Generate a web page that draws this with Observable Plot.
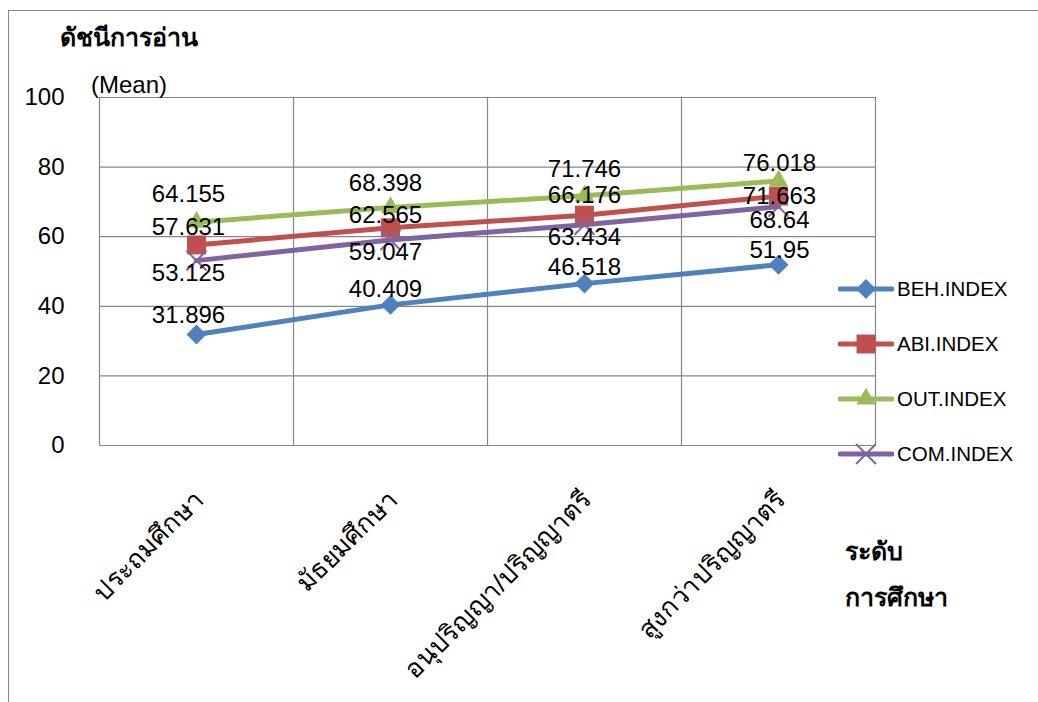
<!DOCTYPE html>
<html>
<head>
<meta charset="utf-8">
<script src="https://cdn.jsdelivr.net/npm/d3@7"></script>
<script src="https://cdn.jsdelivr.net/npm/@observablehq/plot@0.6"></script>
<style>
  body { margin: 0; background: #fff; }
  #wrap { position: relative; width: 1038px; height: 702px; overflow: hidden; background: #fff;
          font-family: "Liberation Sans", Arial, sans-serif; color: #000; }
  #border { position: absolute; left: 8px; top: 10px; width: 1040px; height: 700px;
            border-left: 1.5px solid #8a8a8a; border-top: 1.5px solid #8a8a8a; }
  #chart { position: absolute; left: 0; top: 0; }
  .ann { position: absolute; white-space: nowrap; line-height: 1; }
  #legend { position: absolute; left: 838px; top: 275px; }
  .lrow { position: absolute; left: 0; display: flex; align-items: center; height: 28px; }
  .lrow span { font-size: 20.5px; margin-left: 3px; }
</style>
</head>
<body>
<div id="wrap">
  <div id="border"></div>
  <div id="chart"></div>
  <div class="ann" style="left:60px; top:25px; font-size:25px; font-weight:bold;">ดัชนีการอ่าน</div>
  <div class="ann" style="left:91px; top:73px; font-size:24px;">(Mean)</div>
  <div class="ann" style="left:845px; top:539px; font-size:25px; font-weight:bold;">ระดับ</div>
  <div class="ann" style="left:845px; top:585px; font-size:25px; font-weight:bold;">การศึกษา</div>
  <div id="legend"></div>
</div>
<script>
const categories = ["ประถมศึกษา", "มัธยมศึกษา", "อนุปริญญา/ปริญญาตรี", "สูงกว่าปริญญาตรี"];
const seriesNames = ["BEH.INDEX", "ABI.INDEX", "OUT.INDEX", "COM.INDEX"];
const behValues = [31.896, 40.409, 46.518, 51.95];
const abiValues = [57.631, 62.565, 66.176, 71.663];
const outValues = [64.155, 68.398, 71.746, 76.018];
const comValues = [53.125, 59.047, 63.434, 68.64];
const yTicks = [0, 20, 40, 60, 80, 100];

const seriesValues = [behValues, abiValues, outValues, comValues];
const colors = ["#4F81BD", "#C0504D", "#9BBB59", "#8064A2"];
const symbols = ["diamond2", "square", "triangle", "times"];
const symbolR = [9.0, 10.7, 7.2, 9.1];
// data-label nudges (pixels), as placed in the original chart: per series, per category
const labelDy = [[-19, -16, -16, -14], [-18, -12, -20, 0], [-28, -24, -27, -18], [13, 12, 13, 14]];
const labelDx = [-8, -5, 0, 1];

const rows = [];
seriesNames.forEach((s, si) => {
  seriesValues[si].forEach((v, i) => rows.push({series: s, si, i, cat: categories[i], value: v}));
});
const gridX = categories.map((_, i) => i - 0.5).concat([categories.length - 0.5]);

const marks = [
  Plot.ruleY(yTicks, {y: d => d, stroke: "#878787", strokeWidth: 1.2}),
  Plot.ruleX(gridX, {x: d => d, stroke: "#878787", strokeWidth: 1.2}),
  Plot.axisY(yTicks, {tickSize: 0, tickPadding: 35, fontSize: 24, fill: "#000",
                      tickFormat: d => String(d), label: null}),
  Plot.text(categories, {x: (d, i) => i, y: () => 0, text: d => d, rotate: -45,
                         textAnchor: "end", fontSize: 26, dy: 50, dx: 3, fill: "#000"})
];
seriesNames.forEach((s, si) => {
  marks.push(Plot.line(rows.filter(r => r.si === si), {
    x: "i", y: "value", stroke: colors[si], strokeWidth: 5, strokeLinecap: "round", strokeLinejoin: "round"
  }));
});
seriesNames.forEach((s, si) => {
  const isStroke = symbols[si] === "times";
  marks.push(Plot.dot(rows.filter(r => r.si === si), {
    x: "i", y: "value", symbol: () => symbols[si], r: symbolR[si],
    fill: isStroke ? "none" : colors[si], stroke: isStroke ? colors[si] : "none",
    strokeWidth: isStroke ? 2 : 0
  }));
});
seriesNames.forEach((s, si) => {
  rows.filter(r => r.si === si).forEach(r => {
    marks.push(Plot.text([r], {
      x: "i", y: "value", text: d => String(d.value), dy: labelDy[si][r.i], dx: labelDx[r.i],
      fontSize: 24, fill: "#000"
    }));
  });
});

const chart = Plot.plot({
  width: 1038,
  height: 702,
  marginLeft: 99,
  marginRight: 163,
  marginTop: 97,
  marginBottom: 257,
  style: {fontFamily: "'Liberation Sans', Arial, sans-serif", background: "transparent", overflow: "visible"},
  x: {type: "linear", domain: [-0.5, categories.length - 0.5], axis: null},
  y: {domain: [0, 100], axis: null},
  symbol: {type: "identity"},
  marks
});
document.getElementById("chart").appendChild(chart);

// legend
const legend = d3.select("#legend");
seriesNames.forEach((s, si) => {
  const row = legend.append("div").attr("class", "lrow").style("top", (si * 55) + "px");
  const svg = row.append("svg").attr("width", 56).attr("height", 28);
  svg.append("line").attr("x1", 2).attr("x2", 54).attr("y1", 14).attr("y2", 14)
     .attr("stroke", colors[si]).attr("stroke-width", 5).attr("stroke-linecap", "round");
  const symMap = {diamond2: d3.symbolDiamond2, square: d3.symbolSquare, triangle: d3.symbolTriangle, times: d3.symbolTimes};
  const size = Math.PI * symbolR[si] * symbolR[si];
  const isStroke = symbols[si] === "times";
  svg.append("path").attr("transform", "translate(28,14)")
     .attr("d", d3.symbol(symMap[symbols[si]], size)())
     .attr("fill", isStroke ? "none" : colors[si])
     .attr("stroke", isStroke ? colors[si] : "none")
     .attr("stroke-width", 2);
  row.append("span").text(s);
});
</script>
</body>
</html>
